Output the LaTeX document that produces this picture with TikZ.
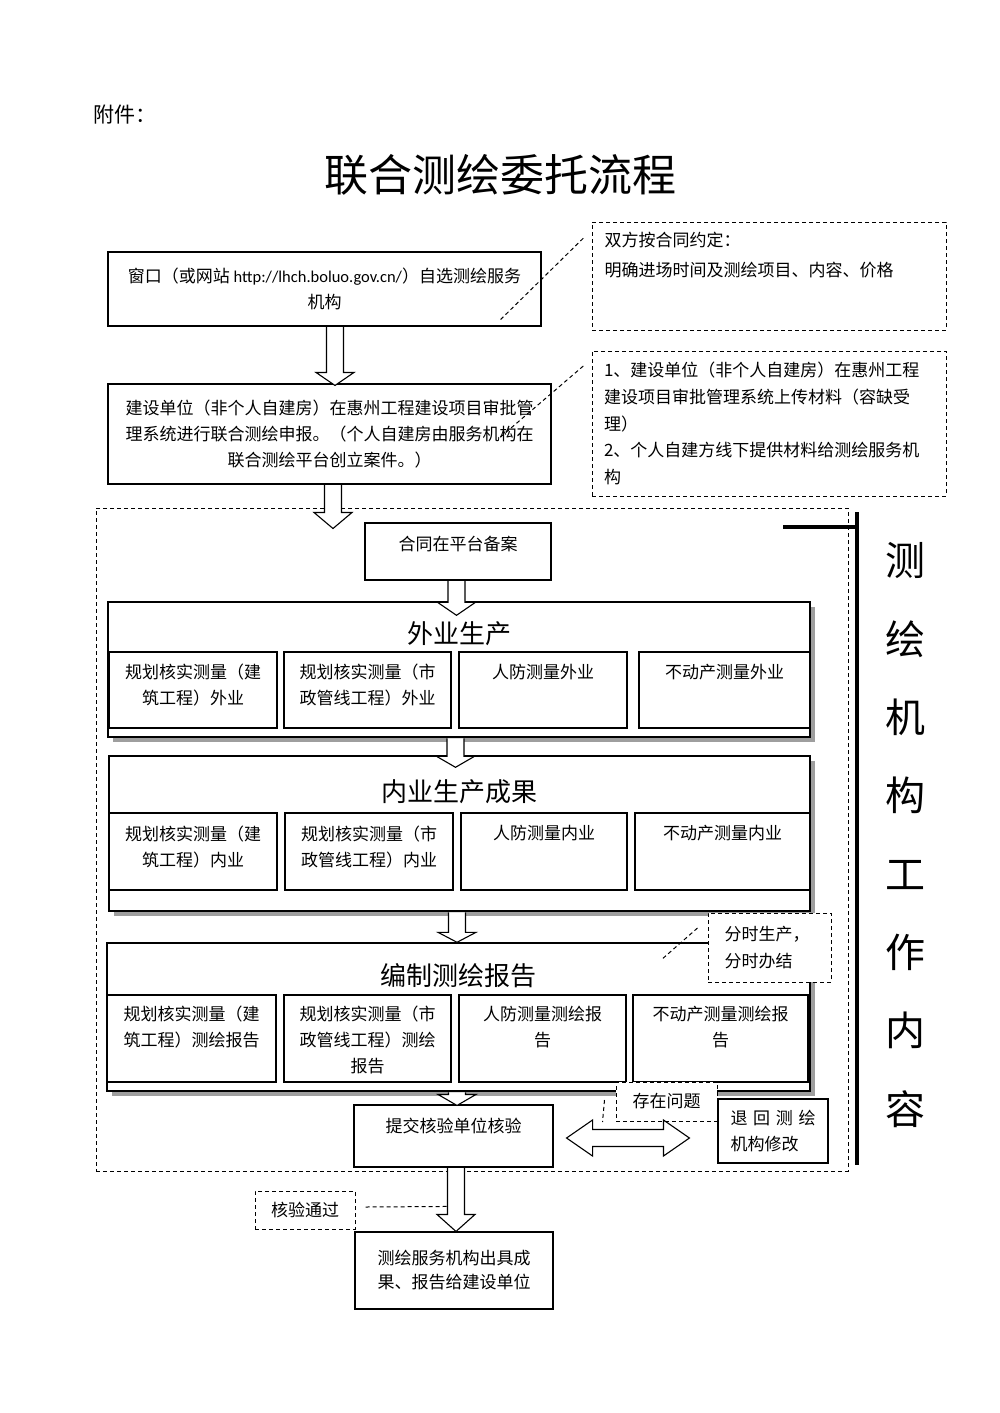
\documentclass[tikz,border=0pt]{standalone}
\usepackage{fontspec}
\setmainfont{Noto Sans CJK SC}
\newfontfamily\urlfont{Carlito}
\usetikzlibrary{calc,shadows}

\tikzset{
  box/.style={draw, line width=1.1pt, fill=white, align=center, inner sep=0pt,
    font=\fontsize{17}{26}\selectfont},
  dbox/.style={box, dash pattern=on 4pt off 3pt, line width=1pt},
  group/.style={draw, line width=1.4pt, fill=white,
    drop shadow={shadow xshift=4.5pt, shadow yshift=-4.5pt, fill=black!38, opacity=1}},
  grouptitle/.style={font=\fontsize{26}{26}\selectfont},
  toptext/.style n args={2}{label={[anchor=north, inner sep=0pt, yshift=-#1pt,
    align=center, font=\fontsize{17}{26}\selectfont]north:{#2}}},
  leader/.style={dash pattern=on 4pt off 3pt, line width=1pt},
  fat/.style={draw, line width=1.1pt, fill=white},
}

% hollow block arrow: from, to, x shift, tip shift, head length
\newcommand{\fatarrow}[5]{
  \path[fat] let \p1=($(#1)+(#3,0)$), \p2=($(#2)+(0,#4)$) in
    (\x1-8.5pt,\y1-0.6pt) -- (\x1-8.5pt,\y2+#5pt) -- (\x1-19pt,\y2+#5pt) -- (\x1,\y2)
    -- (\x1+19pt,\y2+#5pt) -- (\x1+8.5pt,\y2+#5pt) -- (\x1+8.5pt,\y1-0.6pt);
}
% hollow double arrow between two boxes
\newcommand{\twowayarrow}[2]{
  \path[fat] let \p1=($(#1.east)+(13,2)$), \p2=($(#2.west)+(-28,7)$) in
    (\x1,\y1) -- (\x1+26pt,\y1+18pt) -- (\x1+26pt,\y1+8.5pt) -- (\x2-26pt,\y1+8.5pt)
    -- (\x2-26pt,\y1+18pt) -- (\x2,\y1) -- (\x2-26pt,\y1-18pt) -- (\x2-26pt,\y1-8.5pt)
    -- (\x1+26pt,\y1-8.5pt) -- (\x1+26pt,\y1-18pt) -- cycle;
}

\begin{document}
\begin{tikzpicture}[x=1pt,y=-1pt]
  \useasboundingbox (0,0) rectangle (999,1413);

  % Title
  % =====
  \node[anchor=west, font=\fontsize{21}{21}\selectfont] (fujian) at (90,115) {附件：};
  \node[font=\fontsize{44}{44}\selectfont] (title) at (500,175) {联合测绘委托流程};

  % Application
  % ===========
  \node[box, minimum width=433pt, minimum height=74pt] (choose) at (324.5,289)
    {窗口（或网站 {\urlfont\fontsize{16.5}{26}\selectfont http://lhch.boluo.gov.cn/}）自选测绘服务\\机构};
  \node[box, minimum width=443pt, minimum height=100pt] (apply) at (329.5,434)
    {建设单位（非个人自建房）在惠州工程建设项目审批管\\
     理系统进行联合测绘申报。（个人自建房由服务机构在\\
     联合测绘平台创立案件。）};

  \node[dbox, minimum width=354pt, minimum height=108pt,
    label={[anchor=north west, inner sep=0pt, xshift=13pt, yshift=-10pt, align=left,
      font=\fontsize{17}{30}\selectfont]north west:{双方按合同约定：\\明确进场时间及测绘项目、内容、价格}}]
    (noteA) at (769,276) {};
  \node[dbox, minimum width=354pt, minimum height=145pt, text width=330pt, align=left,
    font=\fontsize{17}{26.7}\selectfont] (noteB) at (769,423.5)
    {1、建设单位（非个人自建房）在惠州工程\\
     建设项目审批管理系统上传材料（容缺受\\
     理）\\
     2、个人自建方线下提供材料给测绘服务机\\
     构};

  \draw[leader] ($(choose.south east)+(-41,-7)$) -- ($(noteA.west)+(-7,-39)$);
  \draw[leader] ($(apply.east)+(-51,3)$) -- ($(noteB.west)+(-7,-58.5)$);

  % Surveying work
  % ==============
  \node[dbox, minimum width=752pt, minimum height=663pt] (work) at (472,839.5) {};
  \coordinate (workin) at ($(work.north west)+(233.5,21)$);

  \node[box, minimum width=186pt, minimum height=57pt, toptext={13.5}{合同在平台备案}]
    (record) at (458,551.5) {};

  % Field work
  % ----------
  \node[group, minimum width=702pt, minimum height=135pt] (field) at (459,669.5) {};
  \node[grouptitle] (fieldt) at (459,634) {外业生产};
  \node[box, minimum width=168pt, minimum height=76pt, toptext={12.5}{规划核实测量（建\\筑工程）外业}] (field1) at (193,690) {};
  \node[box, minimum width=167pt, minimum height=76pt, toptext={12.5}{规划核实测量（市\\政管线工程）外业}] (field2) at (367.5,690) {};
  \node[box, minimum width=168pt, minimum height=76pt, toptext={12.5}{人防测量外业}] (field3) at (543,690) {};
  \node[box, minimum width=171pt, minimum height=76pt, toptext={12.5}{不动产测量外业}] (field4) at (724.5,690) {};

  % Office work
  % -----------
  \node[group, minimum width=701pt, minimum height=155pt] (office) at (459.5,833.5) {};
  \node[grouptitle] (officet) at (459.5,792) {内业生产成果};
  \node[box, minimum width=168pt, minimum height=77pt, toptext={13}{规划核实测量（建\\筑工程）内业}] (office1) at (193,851.5) {};
  \node[box, minimum width=168pt, minimum height=77pt, toptext={13}{规划核实测量（市\\政管线工程）内业}] (office2) at (369,851.5) {};
  \node[box, minimum width=166pt, minimum height=77pt, toptext={13}{人防测量内业}] (office3) at (544,851.5) {};
  \node[box, minimum width=175pt, minimum height=77pt, toptext={13}{不动产测量内业}] (office4) at (722.5,851.5) {};

  % Reports
  % -------
  \node[group, minimum width=703pt, minimum height=148pt] (report) at (458.5,1017) {};
  \node[grouptitle] (reportt) at (458.5,976) {编制测绘报告};
  \node[box, minimum width=169pt, minimum height=87pt, toptext={11.5}{规划核实测量（建\\筑工程）测绘报告}] (report1) at (191.5,1038.5) {};
  \node[box, minimum width=167pt, minimum height=87pt, toptext={11.5}{规划核实测量（市\\政管线工程）测绘\\报告}] (report2) at (367.5,1038.5) {};
  \node[box, minimum width=167pt, minimum height=87pt, toptext={11.5}{人防测量测绘报\\告}] (report3) at (542.5,1038.5) {};
  \node[box, minimum width=175pt, minimum height=87pt, toptext={11.5}{不动产测量测绘报\\告}] (report4) at (720.5,1038.5) {};

  \node[dbox, minimum width=123pt, minimum height=69pt, text width=90pt, align=left,
    font=\fontsize{17}{27}\selectfont] (stage) at (769.5,947.5) {分时生产，\\分时办结};
  \draw[leader] ($(stage.west)+(-10,-19.5)$) -- ($(report.north east)+(-150,18)$);

  % Check
  % -----
  \node[box, minimum width=199pt, minimum height=62pt, toptext={13.5}{提交核验单位核验}]
    (check) at (453.5,1136) {};
  \node[dbox, minimum width=101pt, minimum height=39pt] (problem) at (666.5,1101.5) {存在问题};
  \node[box, minimum width=110pt, minimum height=64pt, text width=85pt, align=left]
    (back) at (773,1131) {\makebox[85pt][l]{退\hfill 回\hfill 测\hfill 绘}\\机构修改};
  \draw[leader] ($(problem.west)+(-11,-1.5)$) -- ($(problem.west)+(-13,20.5)$);
  \twowayarrow{check}{back}

  % Result
  % ======
  \node[box, minimum width=198pt, minimum height=77pt, font=\fontsize{17}{24}\selectfont]
    (result) at (454,1270.5) {测绘服务机构出具成\\果、报告给建设单位};
  \node[dbox, minimum width=100pt, minimum height=38pt] (passed) at (305,1210) {核验通过};

  % Arrows
  % ======
  \fatarrow{choose.south}{apply.north}{10.5}{2}{13}
  \fatarrow{apply.south}{workin}{3.5}{0}{16}
  \fatarrow{record.south}{field.north}{-1.5}{14}{13}
  \fatarrow{field.south}{office.north}{-3.5}{12}{11}
  \fatarrow{office.south}{report.north}{-2.5}{0}{10}
  \fatarrow{report.south}{check.north}{-1.5}{1}{11}
  \fatarrow{check.south}{result.north}{2.5}{0}{17}
  \draw[leader] ($(passed.east)+(10,-3)$) -- ($(result.north)+(-6,-25)$);

  % Side label
  % ==========
  \draw[line width=4pt] (857,512) -- (857,1165);
  \draw[line width=4pt] (783,527) -- (857,527);
  \node[font=\fontsize{40}{78.3}\selectfont, align=center] (side) at (905,835)
    {测\\绘\\机\\构\\工\\作\\内\\容};
\end{tikzpicture}
\end{document}
